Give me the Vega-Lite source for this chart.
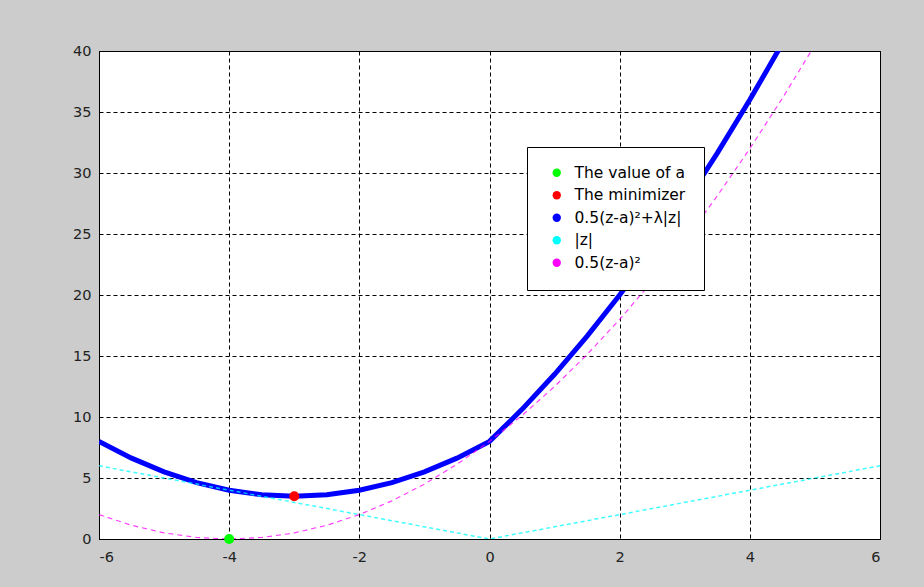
{
  "$schema": "https://vega.github.io/schema/vega-lite/v6.json",
  "width": 781,
  "height": 488,
  "autosize": {"type": "none"},
  "padding": {"left": 99, "top": 51, "right": 44, "bottom": 48},
  "background": "#cccccc",
  "config": {
    "view": {"fill": "white", "stroke": "black", "strokeWidth": 1},
    "font": "DejaVu Sans",
    "axis": {
      "grid": true,
      "gridColor": "black",
      "gridOpacity": 1,
      "gridDash": [4, 3],
      "gridWidth": 1,
      "domainColor": "black",
      "ticks": false,
      "labelFont": "DejaVu Sans",
      "labelFontSize": 14.5,
      "labelColor": "#222222",
      "title": null
    },
    "legend": {
      "orient": "none",
      "legendX": 428,
      "legendY": 96,
      "fillColor": "white",
      "strokeColor": "black",
      "padding": 18,
      "symbolType": "circle",
      "symbolSize": 70,
      "symbolOffset": 4,
      "symbolOpacity": 1,
      "symbolStrokeWidth": 0,
      "labelOffset": 10,
      "labelFont": "DejaVu Sans",
      "labelFontSize": 15.5,
      "labelColor": "black",
      "rowPadding": 5.5,
      "labelLimit": 300
    }
  },
  "datasets": {
    "curves": [
      {"z": -6, "y": 8, "s": "0.5(z-a)²+λ|z|"},
      {"z": -5.5, "y": 6.625, "s": "0.5(z-a)²+λ|z|"},
      {"z": -5, "y": 5.5, "s": "0.5(z-a)²+λ|z|"},
      {"z": -4.5, "y": 4.625, "s": "0.5(z-a)²+λ|z|"},
      {"z": -4, "y": 4, "s": "0.5(z-a)²+λ|z|"},
      {"z": -3.5, "y": 3.625, "s": "0.5(z-a)²+λ|z|"},
      {"z": -3, "y": 3.5, "s": "0.5(z-a)²+λ|z|"},
      {"z": -2.5, "y": 3.625, "s": "0.5(z-a)²+λ|z|"},
      {"z": -2, "y": 4, "s": "0.5(z-a)²+λ|z|"},
      {"z": -1.5, "y": 4.625, "s": "0.5(z-a)²+λ|z|"},
      {"z": -1, "y": 5.5, "s": "0.5(z-a)²+λ|z|"},
      {"z": -0.5, "y": 6.625, "s": "0.5(z-a)²+λ|z|"},
      {"z": 0, "y": 8, "s": "0.5(z-a)²+λ|z|"},
      {"z": 0.5, "y": 10.625, "s": "0.5(z-a)²+λ|z|"},
      {"z": 1, "y": 13.5, "s": "0.5(z-a)²+λ|z|"},
      {"z": 1.5, "y": 16.625, "s": "0.5(z-a)²+λ|z|"},
      {"z": 2, "y": 20, "s": "0.5(z-a)²+λ|z|"},
      {"z": 2.5, "y": 23.625, "s": "0.5(z-a)²+λ|z|"},
      {"z": 3, "y": 27.5, "s": "0.5(z-a)²+λ|z|"},
      {"z": 3.5, "y": 31.625, "s": "0.5(z-a)²+λ|z|"},
      {"z": 4, "y": 36, "s": "0.5(z-a)²+λ|z|"},
      {"z": 4.5, "y": 40.625, "s": "0.5(z-a)²+λ|z|"},
      {"z": 5, "y": 45.5, "s": "0.5(z-a)²+λ|z|"},
      {"z": -6, "y": 6, "s": "|z|"},
      {"z": 0, "y": 0, "s": "|z|"},
      {"z": 6, "y": 6, "s": "|z|"},
      {"z": -6, "y": 2, "s": "0.5(z-a)²"},
      {"z": -5.5, "y": 1.125, "s": "0.5(z-a)²"},
      {"z": -5, "y": 0.5, "s": "0.5(z-a)²"},
      {"z": -4.5, "y": 0.125, "s": "0.5(z-a)²"},
      {"z": -4, "y": 0, "s": "0.5(z-a)²"},
      {"z": -3.5, "y": 0.125, "s": "0.5(z-a)²"},
      {"z": -3, "y": 0.5, "s": "0.5(z-a)²"},
      {"z": -2.5, "y": 1.125, "s": "0.5(z-a)²"},
      {"z": -2, "y": 2, "s": "0.5(z-a)²"},
      {"z": -1.5, "y": 3.125, "s": "0.5(z-a)²"},
      {"z": -1, "y": 4.5, "s": "0.5(z-a)²"},
      {"z": -0.5, "y": 6.125, "s": "0.5(z-a)²"},
      {"z": 0, "y": 8, "s": "0.5(z-a)²"},
      {"z": 0.5, "y": 10.125, "s": "0.5(z-a)²"},
      {"z": 1, "y": 12.5, "s": "0.5(z-a)²"},
      {"z": 1.5, "y": 15.125, "s": "0.5(z-a)²"},
      {"z": 2, "y": 18, "s": "0.5(z-a)²"},
      {"z": 2.5, "y": 21.125, "s": "0.5(z-a)²"},
      {"z": 3, "y": 24.5, "s": "0.5(z-a)²"},
      {"z": 3.5, "y": 28.125, "s": "0.5(z-a)²"},
      {"z": 4, "y": 32, "s": "0.5(z-a)²"},
      {"z": 4.5, "y": 36.125, "s": "0.5(z-a)²"},
      {"z": 5, "y": 40.5, "s": "0.5(z-a)²"},
      {"z": 5.5, "y": 45.125, "s": "0.5(z-a)²"}
    ],
    "pts": [
      {"z": -4, "y": 0, "s": "The value of a"},
      {"z": -3, "y": 3.5, "s": "The minimizer"}
    ]
  },
  "encoding": {
    "x": {"field": "z", "type": "quantitative",
          "scale": {"domain": [-6, 6], "nice": false, "zero": false},
          "axis": {"values": [-6, -4, -2, 0, 2, 4, 6], "labelPadding": 11, "labelExpr": "datum.value + ''"}},
    "y": {"field": "y", "type": "quantitative",
          "scale": {"domain": [0, 40], "nice": false},
          "axis": {"values": [0, 5, 10, 15, 20, 25, 30, 35, 40], "labelPadding": 8, "labelExpr": "datum.value + ''"}},
    "color": {"field": "s", "type": "nominal",
              "scale": {"domain": ["The value of a", "The minimizer", "0.5(z-a)²+λ|z|", "|z|", "0.5(z-a)²"],
                        "range": ["#00ff00", "#ff0000", "#0000ff", "#00ffff", "#ff00ff"]},
              "legend": {
                "title": null,
                "symbolType": "circle",
                "encode": {
                  "symbols": {"update": {"fill": {"scale": "color", "field": "value"}, "fillOpacity": {"value": 1}, "strokeWidth": {"value": 0}, "strokeDash": {"value": []}}}
                }
              }}
  },
  "layer": [
    {
      "data": {"name": "curves"},
      "transform": [{"filter": "datum.s == '0.5(z-a)²+λ|z|'"}],
      "mark": {"type": "line", "clip": true, "strokeWidth": 5}
    },
    {
      "data": {"name": "curves"},
      "transform": [{"filter": "datum.s == '|z|'"}],
      "mark": {"type": "line", "clip": true, "strokeWidth": 1.5, "strokeDash": [4, 3], "opacity": 0.75}
    },
    {
      "data": {"name": "curves"},
      "transform": [{"filter": "datum.s == '0.5(z-a)²'"}],
      "mark": {"type": "line", "clip": true, "strokeWidth": 1.2, "strokeDash": [5, 4], "opacity": 0.75}
    },
    {
      "data": {"name": "pts"},
      "mark": {"type": "point", "shape": "circle", "filled": true, "size": 100, "opacity": 1, "clip": false}
    }
  ]
}
